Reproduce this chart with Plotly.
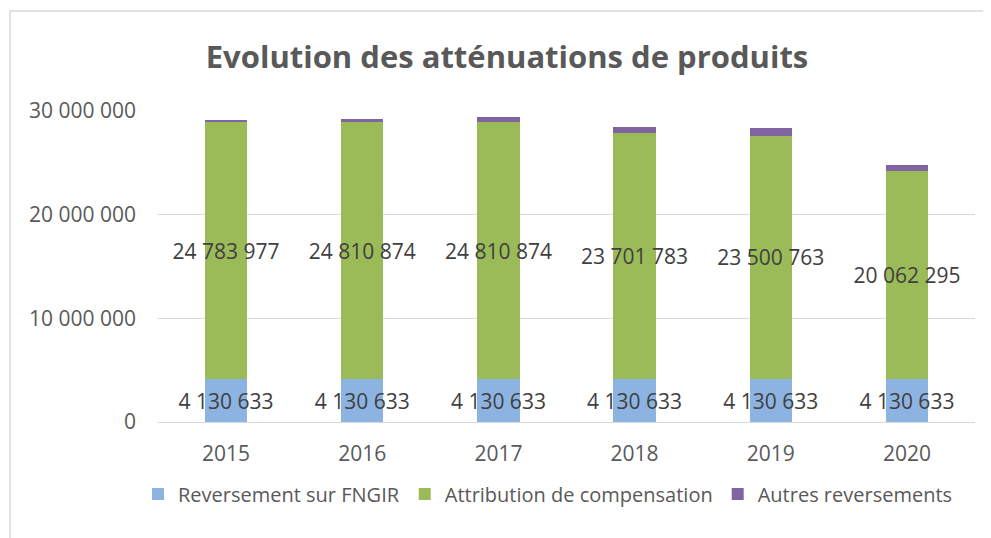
import plotly.graph_objects as go

years = ["2015", "2016", "2017", "2018", "2019", "2020"]
fngir = [4130633, 4130633, 4130633, 4130633, 4130633, 4130633]
attribution = [24783977, 24810874, 24810874, 23701783, 23500763, 20062295]
autres = [200000, 320000, 480000, 580000, 760000, 620000]

series_names = ["Reversement sur FNGIR", "Attribution de compensation", "Autres reversements"]
colors = ["#8db3e2", "#9bbb59", "#8064a2"]

y_ticks = [0, 10000000, 20000000, 30000000]


def fmt(v):
    return f"{v:,}".replace(",", " ")


FONT = "Open Sans"
OFF = 8  # page body margin
W, H = 991 - OFF, 538 - OFF
L, T, R, B = 158 - OFF, 111 - OFF, 16, 116
PW, PH = W - L - R, H - T - B

fig = go.Figure()

fig.add_trace(go.Bar(
    x=years, y=fngir, name=series_names[0], marker=dict(color=colors[0], line=dict(width=0)),
    text=[fmt(v) for v in fngir], textposition="inside", insidetextanchor="middle",
    constraintext="none", textangle=0,
    textfont=dict(family=FONT, size=21, color="#404040"), hoverinfo="skip"))
fig.add_trace(go.Bar(
    x=years, y=attribution, name=series_names[1], marker=dict(color=colors[1], line=dict(width=0)),
    text=[fmt(v) for v in attribution], textposition="inside", insidetextanchor="middle",
    constraintext="none", textangle=0,
    textfont=dict(family=FONT, size=21, color="#404040"), hoverinfo="skip"))
fig.add_trace(go.Bar(
    x=years, y=autres, name=series_names[2], marker=dict(color=colors[2], line=dict(width=0)),
    hoverinfo="skip"))

fig.update_layout(
    width=W, height=H,
    barmode="stack", bargap=0.69,
    paper_bgcolor="white", plot_bgcolor="white",
    separators=", ",
    margin=dict(l=L, r=R, t=T, b=B, autoexpand=False),
    title=dict(text="<b>Evolution des atténuations de produits</b>",
               x=(507 - OFF) / W, xref="container", xanchor="center",
               y=1 - (57 - OFF) / H, yref="container", yanchor="middle",
               font=dict(family=FONT, size=31, color="#595959")),
    font=dict(family=FONT, size=21, color="#595959"),
    legend=dict(orientation="h", x=(548 - OFF - L) / PW, xanchor="center", xref="paper",
                y=-(494 - 422) / PH, yanchor="middle",
                font=dict(family=FONT, size=20, color="#595959"),
                traceorder="normal", itemwidth=30),
    showlegend=True,
)

fig.update_xaxes(showgrid=False, showline=False, ticks="", tickfont=dict(size=21, color="#595959"),
                 ticklabelstandoff=17)
fig.update_yaxes(range=[0, 30000000], tickvals=y_ticks, tickformat=",d",
                 showgrid=True, gridcolor="#d9d9d9", gridwidth=1,
                 zeroline=True, zerolinecolor="#d9d9d9", zerolinewidth=1,
                 showline=False, ticks="", tickfont=dict(size=21, color="#595959"),
                 ticklabelstandoff=21)

fig.add_shape(type="rect", xref="paper", yref="paper",
              x0=(10 - 158) / PW, x1=(1000 - 158) / PW,
              y0=(422 - 560) / PH, y1=(422 - 11) / PH,
              line=dict(color="#d9d9d9", width=1.5), fillcolor="rgba(0,0,0,0)", layer="below")

fig.write_html("out.html")
